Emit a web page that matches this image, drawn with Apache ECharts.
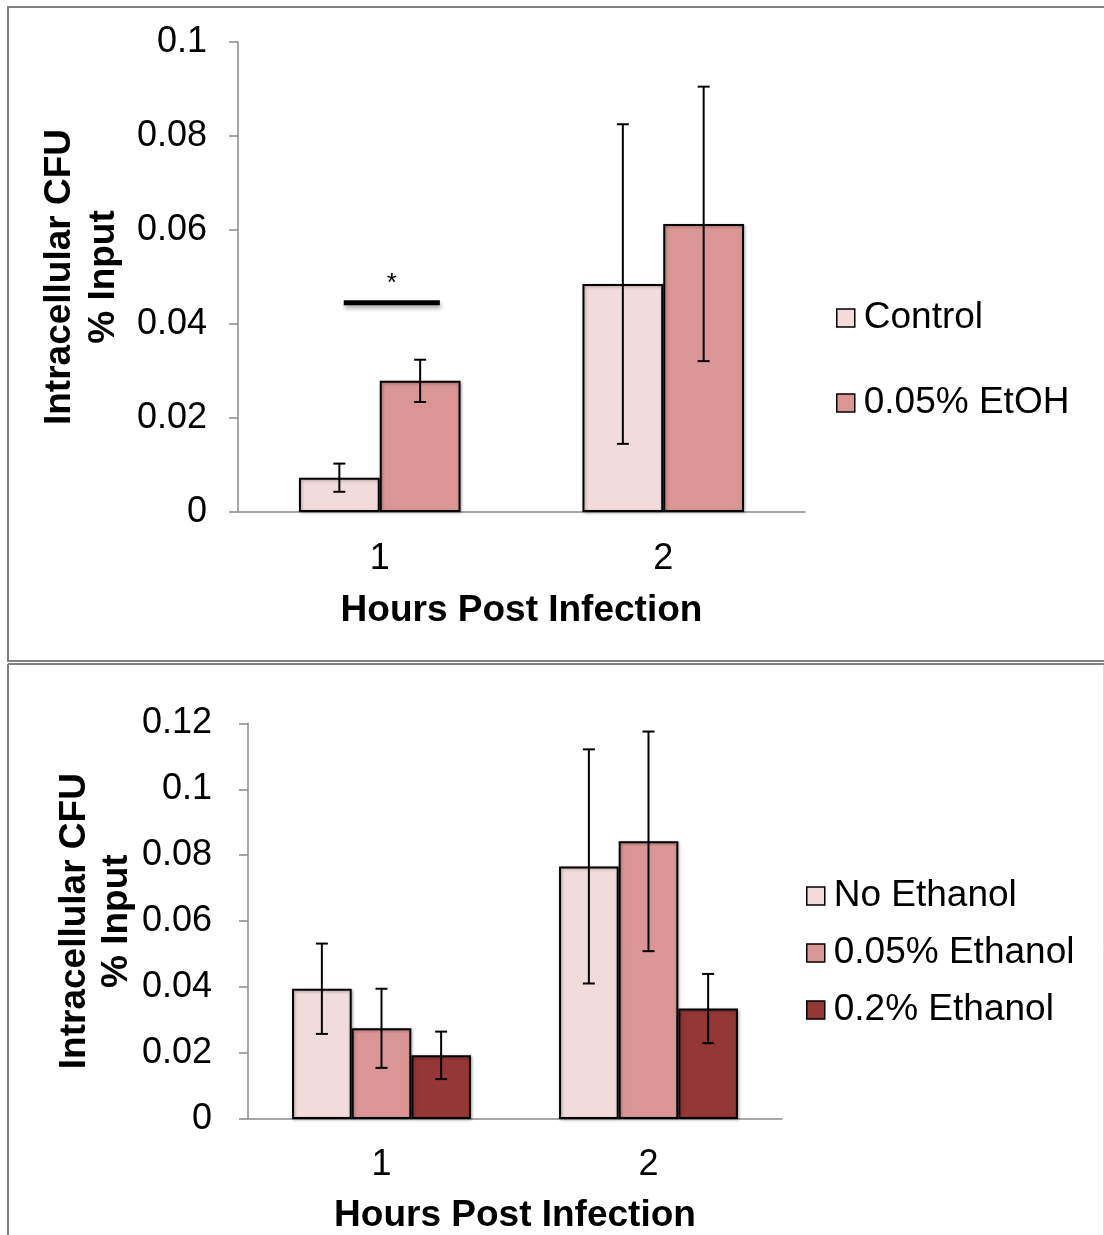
<!DOCTYPE html>
<html>
<head>
<meta charset="utf-8">
<script src="https://cdn.jsdelivr.net/npm/echarts@6/dist/echarts.min.js"></script>
<style>
html,body{margin:0;padding:0;background:#fff;}
#chart{width:1104px;height:1235px;}
</style>
</head>
<body>
<div id="chart"></div>
<script>
// ---------- data ----------
var categories = ['1', '2'];

// top chart
var topSeriesNames = ['Control', '0.05% EtOH'];
var topControl = [0.0073, 0.0485];
var topControlErr = [0.0030, 0.0340];
var topEtOH = [0.0279, 0.0613];
var topEtOHErr = [0.0045, 0.0292];
var topYTicks = ['0', '0.02', '0.04', '0.06', '0.08', '0.1'];
var sigCategory = 0;          // index of category with significance mark
var sigLevel = 0.0445;        // y value of significance bar
var sigText = '*';

// bottom chart
var botSeriesNames = ['No Ethanol', '0.05% Ethanol', '0.2% Ethanol'];
var botNoEth = [0.0395, 0.0766];
var botNoEthErr = [0.0137, 0.0355];
var botEth005 = [0.0275, 0.0842];
var botEth005Err = [0.0120, 0.0333];
var botEth02 = [0.0193, 0.0335];
var botEth02Err = [0.0072, 0.0105];
var botYTicks = ['0', '0.02', '0.04', '0.06', '0.08', '0.1', '0.12'];

var xTitle = 'Hours Post Infection';
var yTitle = 'Intracellular CFU\n% Input';

// ---------- styles ----------
var FONT = '"Liberation Sans", Arial, sans-serif';
var colors = ['#F2DCDB', '#D99694', '#953735'];
var axisGray = '#8a8a8a';
var topGap = 0.43;
var botGap = 0.33;

var chart = echarts.init(document.getElementById('chart'), null, {renderer: 'canvas'});

function barSeries(name, data, color, axisIdx) {
  return {
    type: 'bar', name: name, data: data,
    xAxisIndex: axisIdx, yAxisIndex: axisIdx,
    barGap: '0%', barCategoryGap: (axisIdx === 0 ? topGap : botGap) * 100 + '%',
    itemStyle: {
      color: color, borderColor: '#000', borderWidth: 2,
      shadowColor: 'rgba(0,0,0,0.3)', shadowBlur: 3, shadowOffsetX: 1, shadowOffsetY: 1
    },
    z: 2
  };
}

function errSeries(name, vals, errs, idx, n, gap, axisIdx) {
  var d = vals.map(function (v, i) { return [i, v, errs[i]]; });
  return {
    type: 'custom', name: 'err-' + name,
    xAxisIndex: axisIdx, yAxisIndex: axisIdx,
    data: d, encode: {x: 0, y: 1}, z: 5, silent: true,
    renderItem: function (params, api) {
      var c = api.value(0), v = api.value(1), e = api.value(2);
      var band = api.size([1, 0])[0];
      var groupW = band * (1 - gap);
      var bw = groupW / n;
      var cx = api.coord([c, v])[0] - groupW / 2 + bw * (idx + 0.5);
      var yTop = api.coord([c, v + e])[1];
      var yBot = api.coord([c, v - e])[1];
      var cap = 6;
      var st = {stroke: '#000', lineWidth: 2};
      return {
        type: 'group',
        children: [
          {type: 'line', shape: {x1: cx, y1: yTop, x2: cx, y2: yBot}, style: st},
          {type: 'line', shape: {x1: cx - cap, y1: yTop, x2: cx + cap, y2: yTop}, style: st},
          {type: 'line', shape: {x1: cx - cap, y1: yBot, x2: cx + cap, y2: yBot}, style: st}
        ]
      };
    }
  };
}

function xAxisCfg(gridIndex, margin, nameGap) {
  return {
    type: 'category', gridIndex: gridIndex, data: categories,
    axisLine: {lineStyle: {color: axisGray, width: 1.5}},
    axisTick: {length: 9, lineStyle: {color: axisGray, width: 1.5}},
    axisLabel: {fontFamily: FONT, fontSize: 36, color: '#000', margin: margin},
    name: xTitle, nameLocation: 'middle', nameGap: nameGap,
    nameTextStyle: {fontFamily: FONT, fontSize: 37, fontWeight: 'bold', color: '#000'}
  };
}

function yAxisCfg(gridIndex, max, ticks, labelMargin, nameGap, lh) {
  return {
    type: 'value', gridIndex: gridIndex, min: 0, max: max, interval: 0.02,
    axisLine: {show: true, lineStyle: {color: axisGray, width: 1.5}},
    axisTick: {show: true, length: 9, lineStyle: {color: axisGray, width: 1.5}},
    splitLine: {show: false},
    axisLabel: {
      fontFamily: FONT, fontSize: 36, color: '#000', margin: labelMargin,
      formatter: function (v, i) { return ticks[i]; }
    },
    name: yTitle, nameLocation: 'middle', nameGap: nameGap, nameRotate: 90,
    nameTextStyle: {fontFamily: FONT, fontSize: 37, fontWeight: 'bold', color: '#000', lineHeight: lh, align: 'center'}
  };
}

var sigSeries = {
  type: 'custom', name: 'significance', xAxisIndex: 0, yAxisIndex: 0,
  data: [[sigCategory, sigLevel]], encode: {x: 0, y: 1}, z: 6, silent: true,
  renderItem: function (params, api) {
    var p = api.coord([api.value(0), api.value(1)]);
    var band = api.size([1, 0])[0];
    var x1 = p[0] - band * 0.127, x2 = p[0] + band * 0.212;
    return {
      type: 'group',
      children: [
        {type: 'line', shape: {x1: x1, y1: p[1], x2: x2, y2: p[1]},
         style: {stroke: '#000', lineWidth: 5, shadowColor: 'rgba(0,0,0,0.35)', shadowBlur: 4, shadowOffsetX: 1, shadowOffsetY: 3}},
        {type: 'text', style: {text: sigText, x: (x1 + x2) / 2, y: p[1] - 19, align: 'center', verticalAlign: 'middle',
          font: '26px ' + FONT, fill: '#000'}}
      ]
    };
  }
};

var option = {
  animation: false,
  backgroundColor: '#fff',
  grid: [
    {left: 238, top: 42, width: 567, height: 470, containLabel: false},
    {left: 248, top: 723.3, width: 534, height: 398.7, containLabel: false}
  ],
  xAxis: [xAxisCfg(0, 29, 80), xAxisCfg(1, 28, 78)],
  yAxis: [yAxisCfg(0, 0.1, topYTicks, 31, 104, 44), yAxisCfg(1, 0.12, botYTicks, 36, 110, 42)],
  legend: [
    {
      data: topSeriesNames, orient: 'vertical', left: 836, top: 298, padding: 0,
      itemWidth: 18, itemHeight: 18, itemGap: 45, icon: 'rect',
      itemStyle: {borderColor: '#000', borderWidth: 1.5},
      textStyle: {fontFamily: FONT, fontSize: 37, color: '#000', lineHeight: 40, padding: [0, 0, 0, 4]}
    },
    {
      data: botSeriesNames, orient: 'vertical', left: 806, top: 876, padding: 0,
      itemWidth: 18, itemHeight: 18, itemGap: 17, icon: 'rect',
      itemStyle: {borderColor: '#000', borderWidth: 1.5},
      textStyle: {fontFamily: FONT, fontSize: 37, color: '#000', lineHeight: 40, padding: [0, 0, 0, 4]}
    }
  ],
  graphic: [
    {type: 'rect', shape: {x: 8, y: 7, width: 1110, height: 654}, style: {fill: 'none', stroke: '#808080', lineWidth: 2}, silent: true},
    {type: 'line', shape: {x1: 8, y1: 664, x2: 1104, y2: 664}, style: {stroke: '#808080', lineWidth: 2}, silent: true},
    {type: 'line', shape: {x1: 8, y1: 664, x2: 8, y2: 1240}, style: {stroke: '#808080', lineWidth: 2}, silent: true},
    {type: 'line', shape: {x1: 1103.5, y1: 665, x2: 1103.5, y2: 1240}, style: {stroke: '#dddddd', lineWidth: 1}, silent: true}
  ],
  series: [
    barSeries(topSeriesNames[0], topControl, colors[0], 0),
    barSeries(topSeriesNames[1], topEtOH, colors[1], 0),
    errSeries(topSeriesNames[0], topControl, topControlErr, 0, 2, topGap, 0),
    errSeries(topSeriesNames[1], topEtOH, topEtOHErr, 1, 2, topGap, 0),
    sigSeries,
    barSeries(botSeriesNames[0], botNoEth, colors[0], 1),
    barSeries(botSeriesNames[1], botEth005, colors[1], 1),
    barSeries(botSeriesNames[2], botEth02, colors[2], 1),
    errSeries(botSeriesNames[0], botNoEth, botNoEthErr, 0, 3, botGap, 1),
    errSeries(botSeriesNames[1], botEth005, botEth005Err, 1, 3, botGap, 1),
    errSeries(botSeriesNames[2], botEth02, botEth02Err, 2, 3, botGap, 1)
  ]
};
chart.setOption(option);
</script>
</body>
</html>
